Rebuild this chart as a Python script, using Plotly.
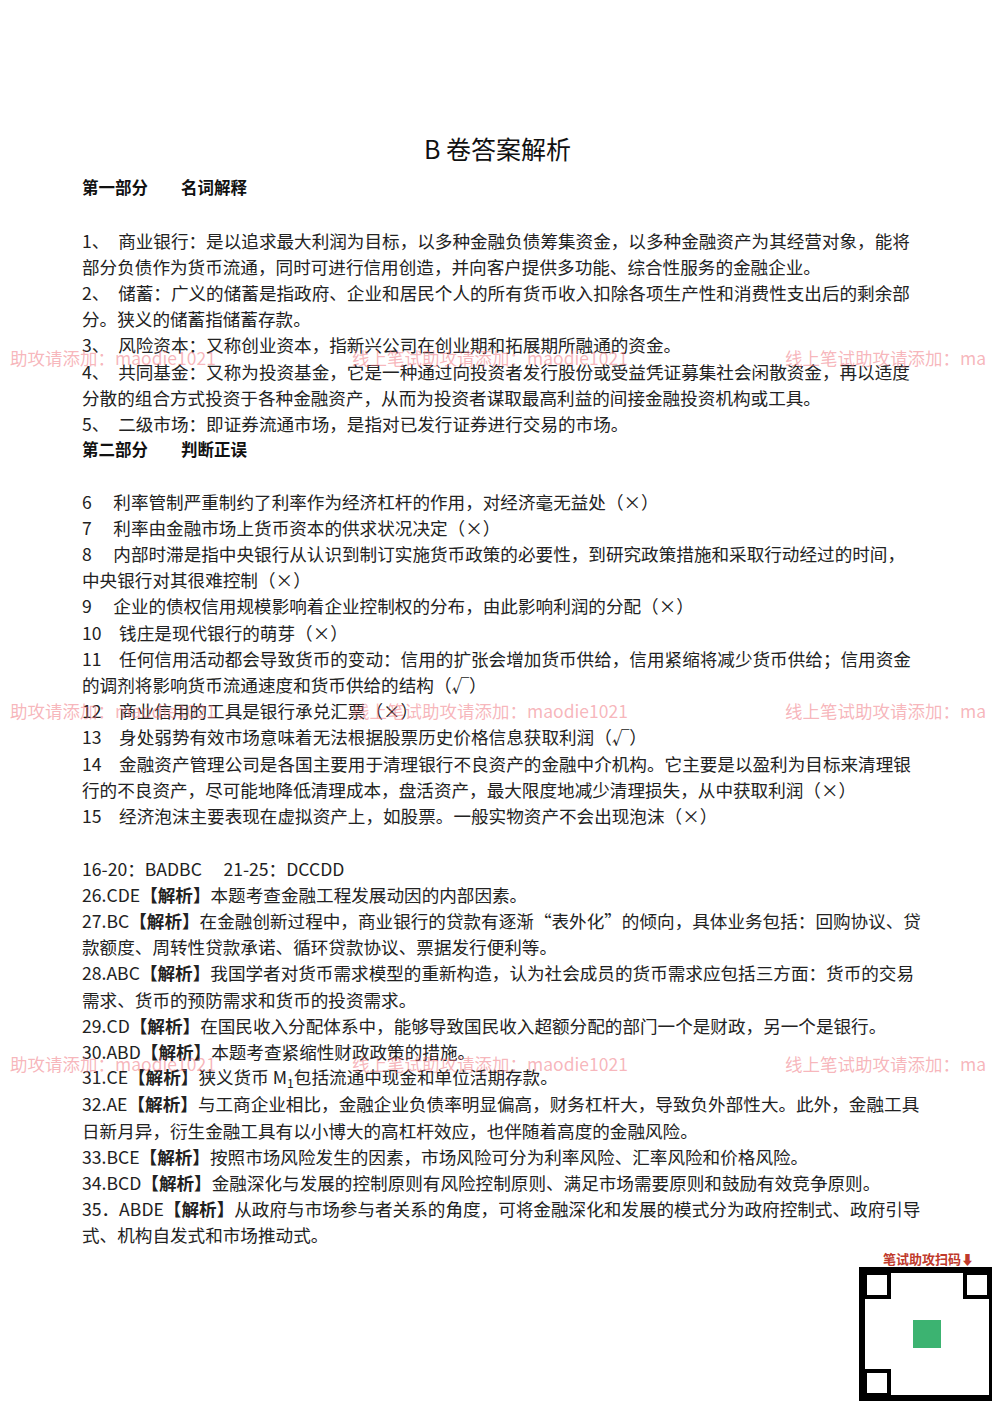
import plotly.graph_objects as go

title = "B 卷答案解析"
headings = [("第一部分　　名词解释", 187), ("第二部分　　判断正误", 449)]
lines = [
 "1、　商业银行：是以追求最大利润为目标，以多种金融负债筹集资金，以多种金融资产为其经营对象，能将",
 "部分负债作为货币流通，同时可进行信用创造，并向客户提供多功能、综合性服务的金融企业。",
 "2、　储蓄：广义的储蓄是指政府、企业和居民个人的所有货币收入扣除各项生产性和消费性支出后的剩余部",
 "分。狭义的储蓄指储蓄存款。",
 "3、　风险资本：又称创业资本，指新兴公司在创业期和拓展期所融通的资金。",
 "4、　共同基金：又称为投资基金，它是一种通过向投资者发行股份或受益凭证募集社会闲散资金，再以适度",
 "分散的组合方式投资于各种金融资产，从而为投资者谋取最高利益的间接金融投资机构或工具。",
 "5、　二级市场：即证券流通市场，是指对已发行证券进行交易的市场。",
]
lines_y0 = 240
lines2 = [
 "6　 利率管制严重制约了利率作为经济杠杆的作用，对经济毫无益处（×）",
 "7　 利率由金融市场上货币资本的供求状况决定（×）",
 "8　 内部时滞是指中央银行从认识到制订实施货币政策的必要性，到研究政策措施和采取行动经过的时间，",
 "中央银行对其很难控制（×）",
 "9　 企业的债权信用规模影响着企业控制权的分布，由此影响利润的分配（×）",
 "10　钱庄是现代银行的萌芽（×）",
 "11　任何信用活动都会导致货币的变动：信用的扩张会增加货币供给，信用紧缩将减少货币供给；信用资金",
 "的调剂将影响货币流通速度和货币供给的结构（√）",
 "12　商业信用的工具是银行承兑汇票（×）",
 "13　身处弱势有效市场意味着无法根据股票历史价格信息获取利润（√）",
 "14　金融资产管理公司是各国主要用于清理银行不良资产的金融中介机构。它主要是以盈利为目标来清理银",
 "行的不良资产，尽可能地降低清理成本，盘活资产，最大限度地减少清理损失，从中获取利润（×）",
 "15　经济泡沫主要表现在虚拟资产上，如股票。一般实物资产不会出现泡沫（×）",
]
lines2_y0 = 501
lines3 = [
 "16-20：BADBC　 21-25：DCCDD",
 "26.CDE<b>【解析】</b>本题考查金融工程发展动因的内部因素。",
 "27.BC<b>【解析】</b>在金融创新过程中，商业银行的贷款有逐渐“表外化”的倾向，具体业务包括：回购协议、贷",
 "款额度、周转性贷款承诺、循环贷款协议、票据发行便利等。",
 "28.ABC<b>【解析】</b>我国学者对货币需求模型的重新构造，认为社会成员的货币需求应包括三方面：货币的交易",
 "需求、货币的预防需求和货币的投资需求。",
 "29.CD<b>【解析】</b>在国民收入分配体系中，能够导致国民收入超额分配的部门一个是财政，另一个是银行。",
 "30.ABD<b>【解析】</b>本题考查紧缩性财政政策的措施。",
 "31.CE<b>【解析】</b>狭义货币 M<sub>1</sub>包括流通中现金和单位活期存款。",
 "32.AE<b>【解析】</b>与工商企业相比，金融企业负债率明显偏高，财务杠杆大，导致负外部性大。此外，金融工具",
 "日新月异，衍生金融工具有以小博大的高杠杆效应，也伴随着高度的金融风险。",
 "33.BCE<b>【解析】</b>按照市场风险发生的因素，市场风险可分为利率风险、汇率风险和价格风险。",
 "34.BCD<b>【解析】</b>金融深化与发展的控制原则有风险控制原则、满足市场需要原则和鼓励有效竞争原则。",
 "35．ABDE<b>【解析】</b>从政府与市场参与者关系的角度，可将金融深化和发展的模式分为政府控制式、政府引导",
 "式、机构自发式和市场推动式。",
]
lines3_y0 = 868
spacing = 26.2
wm_texts = ["助攻请添加：maodie1021", "线上笔试助攻请添加：maodie1021", "线上笔试助攻请添加：ma"]
wm_rows = [357, 710, 1063]
wm_cols = [8, 350, 783]

font = "Noto Sans CJK SC"
fig = go.Figure()
ann = []
ann.append(dict(x=497, y=148, text=title, font=dict(size=25, family=font, color="#111")))
for t, y in headings:
    ann.append(dict(x=80, y=y, text="<b>"+t+"</b>", xanchor="left", font=dict(size=16.5, family=font, color="#111")))
for block, y0 in [(lines, lines_y0), (lines2, lines2_y0), (lines3, lines3_y0)]:
    for i, t in enumerate(block):
        ann.append(dict(x=80, y=y0 + i*spacing, text=t, xanchor="left",
                        font=dict(size=17.6, family=font, color="#222")))
for y in wm_rows:
    for x, t in zip(wm_cols, wm_texts):
        ann.append(dict(x=x, y=y, text=t, xanchor="left",
                        font=dict(size=17.5, family=font, color="rgba(240,120,130,0.55)")))
ann.append(dict(x=928, y=1258, text="<b>笔试助攻扫码⬇</b>", font=dict(size=13, family=font, color="#c0392b")))
for a in ann:
    a.update(xref="x", yref="y", showarrow=False, yanchor="middle")
    a.setdefault("xanchor", "center")
fig.update_layout(annotations=ann)
fig.add_shape(type="rect", x0=862, y0=1270, x1=992, y1=1398, line=dict(color="#000", width=6), fillcolor="#fff")
for (cx, cy) in [(877, 1285), (977, 1285), (877, 1383)]:
    fig.add_shape(type="rect", x0=cx-12, y0=cy-12, x1=cx+12, y1=cy+12, line=dict(color="#000", width=4))
fig.add_shape(type="rect", x0=913, y0=1320, x1=941, y1=1348, fillcolor="#3cb371", line=dict(width=0))
fig.update_xaxes(range=[8, 1008], visible=False)
fig.update_yaxes(range=[1422, 8], visible=False)
fig.update_layout(width=1000, height=1414, margin=dict(l=0, r=0, t=0, b=0),
                  plot_bgcolor="white", paper_bgcolor="white", showlegend=False)
fig.write_html("out.html")
